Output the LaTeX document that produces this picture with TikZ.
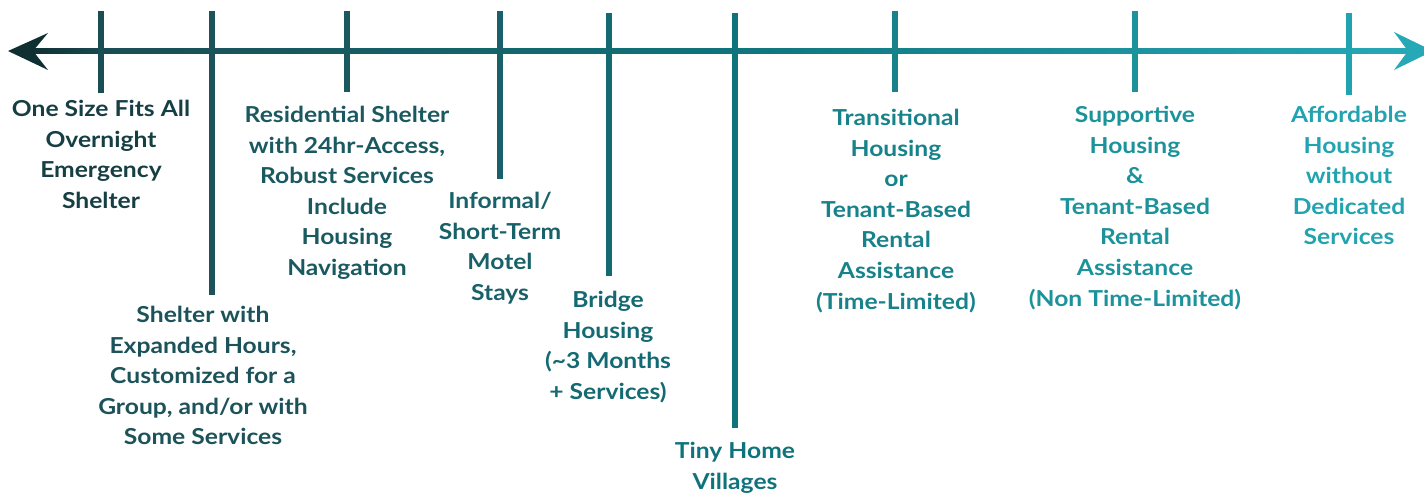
\documentclass[tikz,border=0pt]{standalone}
\usepackage{fontspec}
\setmainfont{Lato}[FakeStretch=1.12]
\definecolor{cA}{HTML}{0F2F33}
\definecolor{cZ}{HTML}{27A8B6}
\definecolor{c1}{HTML}{1B4D54}
\definecolor{t1}{HTML}{163F44}
\definecolor{c2}{HTML}{1C5259}
\definecolor{c3}{HTML}{1B5960}
\definecolor{c4}{HTML}{196168}
\definecolor{c5}{HTML}{146A72}
\definecolor{c6}{HTML}{0F737B}
\definecolor{c7}{HTML}{18828B}
\definecolor{c8}{HTML}{1C929B}
\definecolor{c9}{HTML}{22A3B0}
\pgfdeclarehorizontalshading{axisshade}{100bp}{color(0bp)=(cA); color(25bp)=(cA); color(28bp)=(c1); color(50bp)=(c6); color(75bp)=(cZ); color(100bp)=(cZ)}
\tikzset{
  tickline/.style={line width=5.5pt},
  label/.style={anchor=north, inner sep=0pt, align=center,
    font=\fontsize{22}{30.6}\selectfont\bfseries},
}
\begin{document}
\begin{tikzpicture}[x=1pt,y=-1pt]
\useasboundingbox (0,0) rectangle (1424,494);
% axis bar with its colour running from dark to light teal
\shade[shading=axisshade] (30,48.5) rectangle (1410,53.5);
% arrow heads at both ends
\fill[cA] (8,51) -- (48,33) -- (33,51) -- (48,70) -- cycle;
\fill[cZ] (1433,51) -- (1394,32) -- (1408,51) -- (1394,70) -- cycle;
% tick ends
\coordinate (a1) at (101,11);  \coordinate (b1) at (101,93);
\coordinate (a2) at (212,11);  \coordinate (b2) at (212,295);
\coordinate (a3) at (347,11);  \coordinate (b3) at (347,92);
\coordinate (a4) at (500,11);  \coordinate (b4) at (500,179);
\coordinate (a5) at (609,13);  \coordinate (b5) at (609,276);
\coordinate (a6) at (735,13);  \coordinate (b6) at (735,428);
\coordinate (a7) at (895,11);  \coordinate (b7) at (895,92);
\coordinate (a8) at (1135,11); \coordinate (b8) at (1135,92);
\coordinate (a9) at (1349,13); \coordinate (b9) at (1349,95);
\draw[tickline,c1] (a1) -- (b1);
\draw[tickline,c2] (a2) -- (b2);
\draw[tickline,c3] (a3) -- (b3);
\draw[tickline,c4] (a4) -- (b4);
\draw[tickline,c5] (a5) -- (b5);
\draw[tickline,c6] (a6) -- (b6);
\draw[tickline,c7] (a7) -- (b7);
\draw[tickline,c8] (a8) -- (b8);
\draw[tickline,c9] (a9) -- (b9);
% labels
\node[label,text=t1] (l1) at (101,100) {One Size Fits All\\Overnight\\Emergency\\Shelter};
\node[label,text=c2] (l2) at (203,306) {Shelter with\\Expanded Hours,\\Customized for a\\Group, and/or with\\Some Services};
\node[label,text=c3] (l3) at (347,106) {Residential Shelter\\with 24hr-Access,\\Robust Services\\Include\\Housing\\Navigation};
\node[label,text=c4] (l4) at (500,192) {Informal/\\Short-Term\\Motel\\Stays};
\node[label,text=c5] (l5) at (608,291) {Bridge\\Housing\\(\textasciitilde3 Months\\+ Services)};
\node[label,text=c6] (l6) at (735,442) {Tiny Home\\Villages};
\node[label,text=c7] (l7) at (896,109) {Transitional\\Housing\\or\\Tenant-Based\\Rental\\Assistance\\(Time-Limited)};
\node[label,text=c8] (l8) at (1135,106) {Supportive\\Housing\\\&\\Tenant-Based\\Rental\\Assistance\\(Non Time-Limited)};
\node[label,text=c9] (l9) at (1349,106) {Affordable\\Housing\\without\\Dedicated\\Services};
\end{tikzpicture}
\end{document}
